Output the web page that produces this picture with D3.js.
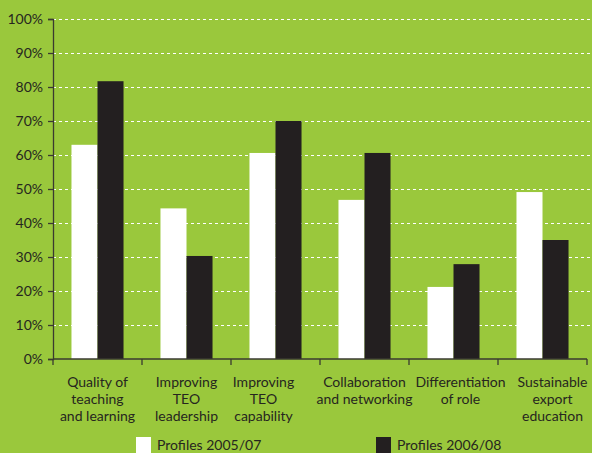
<!DOCTYPE html>
<html>
<head>
<meta charset="utf-8">
<script src="https://cdn.jsdelivr.net/npm/d3@7"></script>
<style>
  html, body { margin: 0; padding: 0; background: #9ac83c; }
  svg { display: block; }
  text { font-family: Lato, "Open Sans", sans-serif; fill: #26261f; }
</style>
</head>
<body>
<script>
// Chart data
const categories = [
  ["Quality of", "teaching", "and learning"],
  ["Improving", "TEO", "leadership"],
  ["Improving", "TEO", "capability"],
  ["Collaboration", "and networking"],
  ["Differentiation", "of role"],
  ["Sustainable", "export", "education"]
];
const seriesNames = ["Profiles 2005/07", "Profiles 2006/08"];
const profiles2005 = [63, 44.3, 60.6, 46.8, 21.2, 49.1];
const profiles2006 = [81.7, 30.3, 70, 60.6, 27.9, 35];
const yTicks = [0, 10, 20, 30, 40, 50, 60, 70, 80, 90, 100];

// Layout
const W = 592, H = 453;
const margin = { left: 53, right: 5, top: 19, bottom: 94 };
const colors = ["#ffffff", "#231f20"];
const labelShift = [0, 0, -12, 0, 7, 10];

const svg = d3.select("body").append("svg").attr("width", W).attr("height", H);

const x = d3.scaleBand()
  .domain(d3.range(categories.length))
  .range([margin.left, W - margin.right])
  .paddingInner(0).paddingOuter(0);

const y = d3.scaleLinear().domain([0, 100]).range([H - margin.bottom, margin.top]);

// Two bars per group, centred in the group with wide side gaps
const inner = d3.scaleBand().domain([0, 1])
  .range([0, x.bandwidth()]).paddingInner(0).paddingOuter(0.71);

// Grid lines
svg.append("g").selectAll("line")
  .data(yTicks.filter(d => d > 0))
  .join("line")
  .attr("x1", margin.left).attr("x2", W - 2)
  .attr("y1", d => Math.round(y(d)) + 0.5).attr("y2", d => Math.round(y(d)) + 0.5)
  .attr("stroke", "#ffffff").attr("stroke-width", 1.2)
  .attr("stroke-dasharray", "3,3");

// Bars
const series = [profiles2005, profiles2006];
const groups = svg.append("g").selectAll("g")
  .data(categories.map((c, i) => i))
  .join("g")
  .attr("transform", i => `translate(${x(i)},0)`);

groups.selectAll("rect")
  .data(i => series.map((s, k) => ({ k, v: s[i] })))
  .join("rect")
  .attr("x", d => inner(d.k))
  .attr("width", inner.bandwidth())
  .attr("y", d => y(d.v))
  .attr("height", d => y(0) - y(d.v))
  .attr("fill", d => colors[d.k]);

// Y axis
const yAxis = d3.axisLeft(y).tickValues(yTicks).tickFormat(d => d + "%").tickSize(5).tickPadding(5);
const gy = svg.append("g").attr("transform", `translate(${margin.left},0)`).call(yAxis);
gy.select(".domain").attr("stroke", "#3a3a30").attr("stroke-width", 1.3);
gy.selectAll(".tick line").attr("stroke", "#3a3a30").attr("stroke-width", 1.3);
gy.selectAll(".tick text").style("font-size", "14px").style("fill", "#26261f")
  .style("font-family", "Lato, 'Open Sans', sans-serif");

// X axis with ticks at group edges
const xAxisG = svg.append("g").attr("transform", `translate(0,${y(0)})`);
xAxisG.append("line")
  .attr("x1", margin.left).attr("x2", x(categories.length - 1) + x.bandwidth())
  .attr("stroke", "#3a3a30").attr("stroke-width", 1.3);
xAxisG.selectAll("line.edge")
  .data(d3.range(categories.length + 1))
  .join("line").attr("class", "edge")
  .attr("x1", i => margin.left + i * x.bandwidth())
  .attr("x2", i => margin.left + i * x.bandwidth())
  .attr("y1", 0).attr("y2", 6)
  .attr("stroke", "#3a3a30").attr("stroke-width", 1.3);

// Category labels, one text element per line
const lines = [];
categories.forEach((c, i) => c.forEach((t, j) => lines.push({ t, i, j })));
svg.append("g").selectAll("text")
  .data(lines)
  .join("text")
  .attr("text-anchor", "middle")
  .style("font-size", "14px")
  .attr("x", d => x(d.i) + x.bandwidth() / 2 + labelShift[d.i])
  .attr("y", d => y(0) + 28 + d.j * 16.9)
  .text(d => d.t);

// Legend
const legendX = [136, 376];
const legend = svg.append("g").selectAll("g")
  .data(seriesNames.map((n, k) => ({ n, k })))
  .join("g")
  .attr("transform", d => `translate(${legendX[d.k]},437)`);
legend.append("rect").attr("width", 15).attr("height", 17).attr("fill", d => colors[d.k]);
legend.append("text").attr("x", 21).attr("y", 13)
  .style("font-size", "14px").text(d => d.n);
</script>
</body>
</html>
